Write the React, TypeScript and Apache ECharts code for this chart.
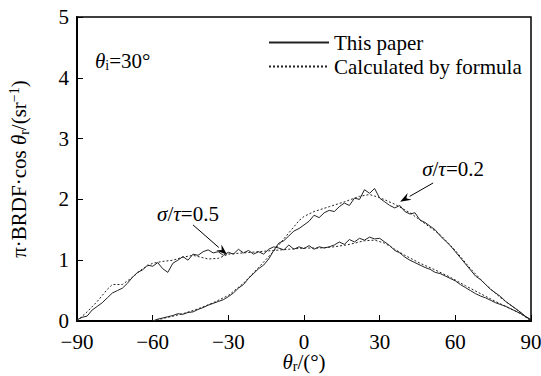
import { useEffect, useRef } from "react";
import * as echarts from "echarts";

const FONT = "Liberation Serif";

// Measured curves (σ/τ = 0.5), 2° steps
const anglesA = [
  -90, -88, -86, -84, -82, -80, -78, -76, -74, -72, -70, -68, -66, -64, -62, -60,
  -58, -56, -54, -52, -50, -48, -46, -44, -42, -40, -38, -36, -34, -32, -30, -28,
  -26, -24, -22, -20, -18, -16, -14, -12, -10, -8, -6, -4, -2, 0, 2, 4, 6, 8, 10,
  12, 14, 16, 18, 20, 22, 24, 26, 28, 30, 32, 34, 36, 38, 40, 42, 44, 46, 48, 50,
  52, 54, 56, 58, 60, 62, 64, 66, 68, 70, 72, 74, 76, 78, 80, 82, 84, 86, 88, 90,
];
const measuredA = [
  0.02, 0.06, 0.08, 0.18, 0.24, 0.3, 0.38, 0.46, 0.5, 0.54, 0.62, 0.72, 0.8, 0.84, 0.92, 0.9,
  0.96, 0.86, 0.8, 0.95, 1.0, 1.06, 1.0, 1.1, 1.08, 1.14, 1.17, 1.12, 1.14, 1.08, 1.13, 1.1,
  1.18, 1.12, 1.16, 1.1, 1.14, 1.1, 1.18, 1.22, 1.2, 1.17, 1.25, 1.18, 1.22, 1.19, 1.24, 1.18, 1.22, 1.2, 1.22,
  1.25, 1.3, 1.26, 1.34, 1.3, 1.36, 1.33, 1.38, 1.35, 1.36, 1.3, 1.24, 1.16, 1.12, 1.05, 1.0, 0.96, 0.92, 0.88, 0.85,
  0.8, 0.78, 0.74, 0.7, 0.66, 0.6, 0.55, 0.5, 0.45, 0.41, 0.38, 0.34, 0.3, 0.27, 0.24, 0.2, 0.16, 0.12, 0.07, 0.02,
];

// Formula curve (σ/τ = 0.5)
const anglesFA = [
  -90, -86, -82, -78, -76, -72, -68, -64, -60, -56, -52, -48, -44, -40, -38, -34, -30,
  -24, -18, -12, -6, 0, 6, 12, 18, 24, 28, 32, 36, 40, 46, 52, 58, 64, 70, 76, 82, 86, 90,
];
const formulaA = [
  0.0, 0.15, 0.32, 0.52, 0.6, 0.6, 0.72, 0.86, 0.95, 0.98, 1.0, 1.05, 1.08, 1.04, 1.02, 1.03, 1.1,
  1.12, 1.14, 1.16, 1.18, 1.2, 1.2, 1.22, 1.26, 1.32, 1.33, 1.28, 1.18, 1.08, 0.95, 0.84, 0.72, 0.58, 0.45, 0.32, 0.2, 0.12, 0.0,
];

// Measured curves (σ/τ = 0.2), 2° steps
const anglesB = [
  -60, -58, -56, -54, -52, -50, -48, -46, -44, -42, -40, -38, -36, -34, -32, -30, -28,
  -26, -24, -22, -20, -18, -16, -14, -12, -10, -8, -6, -4, -2, 0, 2, 4, 6, 8, 10,
  12, 14, 16, 18, 20, 22, 24, 26, 28, 30, 32, 34, 36, 38, 40, 42, 44, 46, 48, 50,
  52, 54, 56, 58, 60, 62, 64, 66, 68, 70, 72, 74, 76, 78, 80, 82, 84, 86, 88, 90,
];
const measuredB = [
  0.0, 0.03, 0.05, 0.07, 0.09, 0.12, 0.11, 0.14, 0.15, 0.19, 0.22, 0.26, 0.29, 0.32, 0.35, 0.4, 0.46,
  0.54, 0.6, 0.7, 0.78, 0.86, 0.92, 1.02, 1.16, 1.28, 1.32, 1.4, 1.48, 1.52, 1.58, 1.64, 1.74, 1.7, 1.78, 1.82,
  1.8, 1.88, 1.94, 1.9, 2.02, 2.0, 2.16, 2.1, 2.18, 2.02, 1.96, 1.9, 1.86, 1.9, 1.8, 1.76, 1.78, 1.66, 1.62, 1.56,
  1.5, 1.4, 1.32, 1.24, 1.14, 1.04, 0.94, 0.84, 0.74, 0.68, 0.6, 0.52, 0.46, 0.4, 0.32, 0.26, 0.2, 0.14, 0.07, 0.02,
];

// Formula curve (σ/τ = 0.2)
const anglesFB = [
  -60, -54, -48, -42, -36, -30, -24, -18, -12, -6, -2, 0, 4, 10, 16, 22, 26, 30,
  36, 42, 48, 54, 60, 66, 72, 78, 84, 90,
];
const formulaB = [
  0.0, 0.06, 0.12, 0.2, 0.3, 0.42, 0.62, 0.88, 1.15, 1.45, 1.65, 1.72, 1.8, 1.88, 1.96, 2.05, 2.08, 2.03,
  1.92, 1.78, 1.6, 1.42, 1.16, 0.86, 0.6, 0.38, 0.2, 0.0,
];

const xTicks = { min: -90, max: 90, interval: 30 };
const yTicks = { min: 0, max: 5, interval: 1 };

const legendNames = ["This paper", "Calculated by formula"];

// Annotation anchors in data space: [θr, value]
const labelA = { text: "0.5", at: [-46, 1.76], from: [-44, 1.58], to: [-30.5, 1.09] };
const labelB = { text: "0.2", at: [59.1, 2.5], from: [51.2, 2.27], to: [38.1, 1.96] };

const pairs = (xs: number[], ys: number[]) => xs.map((x, i) => [x, ys[i]]);

const rich = {
  t: { fontFamily: FONT, fontSize: 21, color: "#000", lineHeight: 24 },
  it: { fontFamily: FONT, fontSize: 21, fontStyle: "italic", color: "#000", lineHeight: 24 },
  sub: { fontFamily: FONT, fontSize: 14, color: "#000", lineHeight: 12, verticalAlign: "bottom" },
  sup: { fontFamily: FONT, fontSize: 14, color: "#000", lineHeight: 12, verticalAlign: "top" },
};

// Slightly tighter line box for the bottom axis title
const richX = {
  t: { ...rich.t, lineHeight: 22 },
  it: { ...rich.it, lineHeight: 22 },
  sub: { ...rich.sub, lineHeight: 10 },
};

const minus = (v: number) => String(v).replace("-", "\u2212");

export default function App() {
  const ref = useRef<HTMLDivElement>(null);

  useEffect(() => {
    const chart = echarts.init(ref.current!, null, { renderer: "svg" });
    const solid = { color: "#222", width: 1, type: "solid" as const };
    const dotted = { color: "#222", width: 1, type: [2, 2] };

    chart.setOption({
      animation: false,
      backgroundColor: "#fff",
      textStyle: { fontFamily: FONT },
      grid: {
        left: 77,
        right: 10,
        top: 17,
        bottom: 55,
        containLabel: false,
        outerBoundsMode: "none",
        show: true,
        borderColor: "#000",
        borderWidth: 1.5,
      },
      legend: {
        data: legendNames,
        orient: "vertical",
        left: 268,
        top: 32,
        padding: 0,
        itemWidth: 60,
        itemHeight: 12,
        itemGap: 3,
        itemStyle: { opacity: 0 },
        textStyle: { fontFamily: FONT, fontSize: 21, color: "#000" },
      },
      xAxis: {
        type: "value",
        ...xTicks,
        name: "{it|θ}{sub|r}{t|/(°)}",
        nameLocation: "middle",
        nameGap: 30,
        nameMoveOverlap: false,
        nameTextStyle: { rich: richX },
        axisLine: { onZero: false, lineStyle: { color: "#000", width: 2 } },
        axisTick: { inside: true, length: 6, lineStyle: { color: "#000", width: 1 } },
        axisLabel: {
          formatter: minus,
          fontFamily: FONT,
          fontSize: 21,
          lineHeight: 20,
          color: "#000",
          margin: 11,
        },
        splitLine: { show: false },
      },
      yAxis: {
        type: "value",
        ...yTicks,
        name: "{t|π·BRDF·cos }{it|θ}{sub|r}{t|/(sr}{sup|−1}{t|)}",
        nameLocation: "middle",
        nameRotate: 90,
        nameGap: 46,
        nameMoveOverlap: false,
        nameTextStyle: { rich },
        axisLine: { onZero: false, lineStyle: { color: "#000", width: 2 } },
        axisTick: { inside: true, length: 6, lineStyle: { color: "#000", width: 1 } },
        axisLabel: { fontFamily: FONT, fontSize: 21, lineHeight: 18, color: "#000", margin: 8 },
        splitLine: { show: false },
      },
      series: [
        {
          name: legendNames[0],
          type: "line",
          symbol: "none",
          data: pairs(anglesA, measuredA),
          lineStyle: solid,
          itemStyle: { color: "#222" },
        },
        {
          name: legendNames[1],
          type: "line",
          symbol: "none",
          data: pairs(anglesFA, formulaA),
          lineStyle: dotted,
          itemStyle: { color: "#222" },
        },
        {
          name: legendNames[0],
          type: "line",
          symbol: "none",
          data: pairs(anglesB, measuredB),
          lineStyle: solid,
          itemStyle: { color: "#222" },
        },
        {
          name: legendNames[1],
          type: "line",
          symbol: "none",
          data: pairs(anglesFB, formulaB),
          lineStyle: dotted,
          itemStyle: { color: "#222" },
        },
      ],
    });

    const px = (c: number[]) => chart.convertToPixel({ gridIndex: 0 }, c) as number[];

    const ratioText = (lab: { text: string; at: number[] }) => {
      const [x, y] = px(lab.at);
      return {
        type: "text",
        x,
        y,
        style: {
          text: `{it|σ}{t|/}{it|τ}{t|=${lab.text}}`,
          rich,
          align: "center",
          verticalAlign: "middle",
        },
      };
    };

    // Pointer arrow: shaft plus a filled head at the "to" end
    const arrow = (lab: { from: number[]; to: number[] }) => {
      const [x1, y1] = px(lab.from);
      const [x2, y2] = px(lab.to);
      const ang = Math.atan2(y2 - y1, x2 - x1);
      const len = 11;
      const half = 4;
      const bx = x2 - len * Math.cos(ang);
      const by = y2 - len * Math.sin(ang);
      const nx = -Math.sin(ang) * half;
      const ny = Math.cos(ang) * half;
      return [
        {
          type: "line",
          shape: { x1, y1, x2: bx, y2: by },
          style: { stroke: "#000", lineWidth: 1 },
        },
        {
          type: "polygon",
          shape: {
            points: [
              [x2, y2],
              [bx + nx, by + ny],
              [bx + 0.35 * len * Math.cos(ang), by + 0.35 * len * Math.sin(ang)],
              [bx - nx, by - ny],
            ],
          },
          style: { fill: "#000" },
        },
      ];
    };

    chart.setOption({
      graphic: [
        {
          type: "text",
          left: 95,
          top: 50,
          style: { text: "{it|θ}{sub|i}{t|=30°}", rich },
        },
        ratioText(labelA),
        ratioText(labelB),
        ...arrow(labelA),
        ...arrow(labelB),
      ],
    });

    return () => chart.dispose();
  }, []);

  return (
    <div
      ref={ref}
      style={{ position: "fixed", left: 0, top: 0, width: 541, height: 376 }}
    />
  );
}
